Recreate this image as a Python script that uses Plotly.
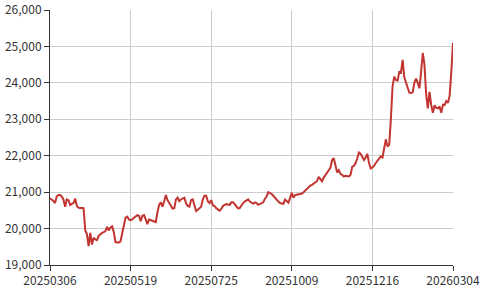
import pandas as pd
import plotly.graph_objects as go

# Trading-day calendar (Chinese exchange holidays removed)
start_date = "2025-03-06"
end_date = "2026-03-04"
holidays = [
    "2025-04-04", "2025-05-01", "2025-05-02", "2025-05-05", "2025-06-02",
    "2025-10-01", "2025-10-02", "2025-10-03", "2025-10-06", "2025-10-07", "2025-10-08",
    "2026-01-01", "2026-01-02",
    "2026-02-16", "2026-02-17", "2026-02-18", "2026-02-19", "2026-02-20", "2026-02-23",
]
days = pd.bdate_range(start_date, end_date)
days = days[~days.isin(pd.to_datetime(holidays))]
dates = [d.strftime("%Y%m%d") for d in days]

tick_labels = ["20250306", "20250519", "20250725", "20251009", "20251216", "20260304"]

values = [
    20830, 20800, 20760, 20700, 20880, 20920, 20920, 20880, 20800, 20600,
    20800, 20780, 20650, 20680, 20700, 20820, 20620, 20570, 20570, 20570,
    20560, 19950, 19850, 19520, 19880, 19560, 19750, 19700, 19680, 19800,
    19850, 19880, 19900, 19930, 20050, 19950, 20030, 20060, 19900, 19630,
    19620, 19620, 19650, 19850, 20050, 20300, 20330, 20250, 20230, 20250,
    20300, 20350, 20370, 20350, 20200, 20350, 20370, 20250, 20120, 20250,
    20230, 20230, 20200, 20180, 20450, 20650, 20720, 20600, 20750, 20920,
    20780, 20700, 20620, 20550, 20560, 20800, 20850, 20750, 20800, 20830,
    20850, 20700, 20620, 20600, 20780, 20800, 20650, 20480, 20520, 20550,
    20600, 20800, 20900, 20900, 20750, 20700, 20780, 20640, 20620, 20560,
    20520, 20490, 20540, 20620, 20650, 20670, 20660, 20650, 20720, 20720,
    20670, 20600, 20555, 20560, 20650, 20700, 20740, 20780, 20800, 20740,
    20700, 20680, 20720, 20700, 20650, 20680, 20700, 20720, 20820, 20880,
    21000, 20980, 20950, 20900, 20840, 20780, 20740, 20700, 20680, 20680,
    20800, 20750, 20710, 20850, 20980, 20850, 20920, 20930, 20940, 20930,
    20960, 21000, 21050, 21100, 21150, 21180, 21200, 21230, 21250, 21300,
    21420, 21350, 21300, 21400, 21480, 21520, 21600, 21670, 21880, 21930,
    21700, 21540, 21600, 21500, 21470, 21430, 21450, 21440, 21430, 21480,
    21700, 21720, 21800, 21930, 22090, 22050, 21950, 21880, 21950, 22050,
    21800, 21650, 21680, 21720, 21800, 21850, 21920, 21980, 21950, 22200,
    22450, 22250, 22300, 23000, 23900, 24170, 24080, 24060, 24300, 24280,
    24630, 24150, 24000, 23900, 23730, 23720, 23740, 24000, 24120, 24000,
    23850, 24300, 24820, 24500, 23700, 23300, 23750, 23400, 23180, 23380,
    23320, 23300, 23350, 23180, 23400, 23390, 23500, 23450, 23650, 24300,
    25100,
]

n = min(len(dates), len(values))
dates = dates[:n]
values = values[:n]

font_family = "Noto Sans CJK SC, Noto Sans, sans-serif"

fig = go.Figure()
fig.add_trace(go.Scatter(
    x=dates, y=values, mode="lines",
    line=dict(color="#c23531", width=2),
    hoverinfo="x+y",
))

fig.update_layout(
    width=484, height=291,
    margin=dict(l=50, r=31, t=10, b=26, autoexpand=False),
    paper_bgcolor="white", plot_bgcolor="white",
    showlegend=False,
    font=dict(family=font_family, size=12, color="#333"),
)
fig.update_xaxes(
    type="category",
    range=[0, n - 1],
    automargin=False,
    tickmode="array", tickvals=tick_labels, ticktext=tick_labels,
    showgrid=True, gridcolor="#ccc", gridwidth=1,
    showline=True, linecolor="#333", linewidth=1,
    ticks="outside", ticklen=5, tickcolor="#333",
    tickfont=dict(size=12, color="#333"),
    zeroline=False,
)
fig.update_yaxes(
    range=[19000, 26000],
    automargin=False,
    tickmode="array",
    tickvals=[19000, 20000, 21000, 22000, 23000, 24000, 25000, 26000],
    tickformat=",",
    showgrid=True, gridcolor="#ccc", gridwidth=1,
    showline=True, linecolor="#333", linewidth=1,
    ticks="outside", ticklen=5, tickcolor="#333",
    tickfont=dict(size=12, color="#333"),
    zeroline=False,
)

fig.write_html("out.html")
